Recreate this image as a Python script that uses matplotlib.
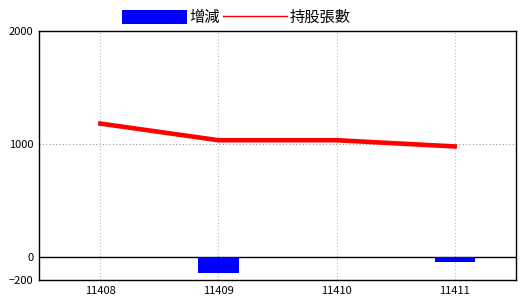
import matplotlib
matplotlib.use('Agg')
import matplotlib.pyplot as plt
import numpy as np

plt.rcParams['font.family'] = ['Noto Sans CJK TC', 'DejaVu Sans']

months = ['11408', '11409', '11410', '11411']
change = [0, -142, 0, -42]
shares = [1182, 1035, 1035, 980]

fig = plt.figure(figsize=(5.2, 3.0), dpi=100)
ax = fig.add_axes([39/520, 20/300, 477/520, 249/300])

x = np.arange(len(months))
ax.bar(x, change, width=0.34, color='#0000ff', label='增減', zorder=3)
ax.plot(x, shares, color='#ff0000', linewidth=3.3, label='持股張數', zorder=4)

ax.axhline(0, color='black', linewidth=1, zorder=2)
ax.axhline(1000, color='#999999', linewidth=0.8, linestyle=(0, (1, 2)), zorder=1)
for xi in x:
    ax.axvline(xi, color='#a8c0d8', linewidth=0.8, linestyle=(0, (1, 2)), zorder=1)

ax.set_xlim(-0.52, 3.52)
ax.set_ylim(-200, 2000)
ax.set_xticks(x)
ax.set_xticklabels(months)
ax.set_yticks([-200, 0, 1000, 2000])
ax.tick_params(length=0, labelsize=8, pad=4)
for s in ax.spines.values():
    s.set_linewidth(1)

handles, labels = ax.get_legend_handles_labels()
leg = fig.legend(handles[::-1], labels[::-1], loc='upper center', bbox_to_anchor=(0.455, 1.015),
                 ncol=2, frameon=False, fontsize=11, handlelength=4.2, handleheight=1.1,
                 handletextpad=0.15, columnspacing=0.25)
for h in leg.legend_handles:
    if hasattr(h, 'set_linewidth') and not hasattr(h, 'get_width'):
        h.set_linewidth(1)

fig.savefig('out.png', dpi=100)
